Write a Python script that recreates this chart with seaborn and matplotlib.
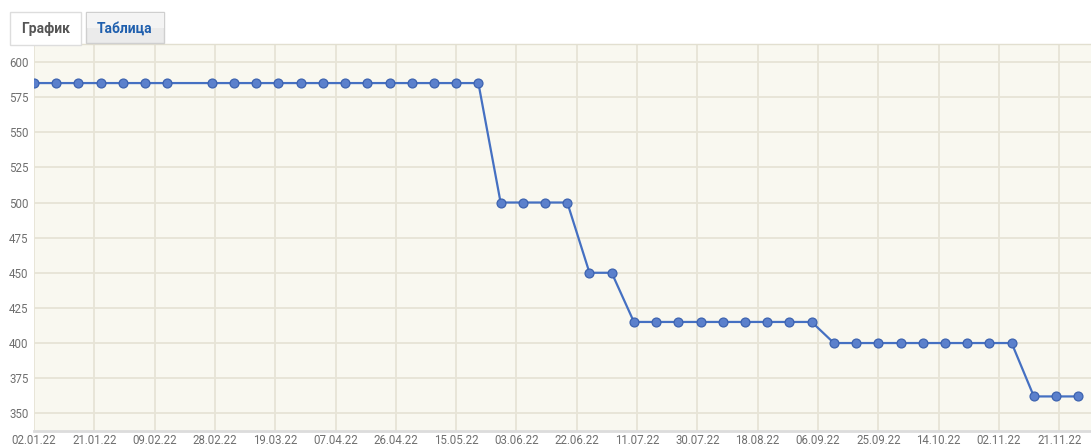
import pandas as pd
import matplotlib.pyplot as plt
import matplotlib.dates as mdates
from matplotlib.patches import Rectangle
import seaborn as sns

# weekly price points (week of 20.02.22 is missing in the source)
dates = [
    "2022-01-02", "2022-01-09", "2022-01-16", "2022-01-23", "2022-01-30", "2022-02-06", "2022-02-13",
    "2022-02-27", "2022-03-06", "2022-03-13", "2022-03-20", "2022-03-27", "2022-04-03", "2022-04-10",
    "2022-04-17", "2022-04-24", "2022-05-01", "2022-05-08", "2022-05-15", "2022-05-22",
    "2022-05-29", "2022-06-05", "2022-06-12", "2022-06-19",
    "2022-06-26", "2022-07-03",
    "2022-07-10", "2022-07-17", "2022-07-24", "2022-07-31", "2022-08-07", "2022-08-14", "2022-08-21",
    "2022-08-28", "2022-09-04",
    "2022-09-11", "2022-09-18", "2022-09-25", "2022-10-02", "2022-10-09", "2022-10-16", "2022-10-23",
    "2022-10-30", "2022-11-06",
    "2022-11-13", "2022-11-20", "2022-11-27",
]
prices = [
    585, 585, 585, 585, 585, 585, 585,
    585, 585, 585, 585, 585, 585, 585,
    585, 585, 585, 585, 585, 585,
    500, 500, 500, 500,
    450, 450,
    415, 415, 415, 415, 415, 415, 415,
    415, 415,
    400, 400, 400, 400, 400, 400, 400,
    400, 400,
    362, 362, 362,
]
tick_dates = [
    "2022-01-02", "2022-01-21", "2022-02-09", "2022-02-28", "2022-03-19", "2022-04-07",
    "2022-04-26", "2022-05-15", "2022-06-03", "2022-06-22", "2022-07-11", "2022-07-30",
    "2022-08-18", "2022-09-06", "2022-09-25", "2022-10-14", "2022-11-02", "2022-11-21",
]
y_ticks = [350, 375, 400, 425, 450, 475, 500, 525, 550, 575, 600]
tab_labels = ["График", "Таблица"]

df = pd.DataFrame({"date": pd.to_datetime(dates), "price": prices})

sns.set_style("white")
plt.rcParams['font.family'] = ['Roboto', 'DejaVu Sans']

W, H = 1091, 446
fig = plt.figure(figsize=(W / 100, H / 100), dpi=100)
fig.patch.set_facecolor("white")


def fx(px):
    return px / W


def fy(py):
    return 1 - py / H


# plot area: left 34px, top 44px, bottom 431px, right edge of image
ax = fig.add_axes([fx(34), fy(431), fx(W - 34), fy(44) - fy(431)])
ax.set_facecolor("#f9f8f0")

sns.lineplot(data=df, x="date", y="price", ax=ax, color="#4570c2", linewidth=1.6,
             marker="o", markersize=6.4, markerfacecolor="#5b80cc",
             markeredgecolor="#3d63b0", markeredgewidth=0.9, zorder=3)

ax.set_xlim(pd.Timestamp("2022-01-02"), pd.Timestamp("2022-01-02") + pd.Timedelta(days=333))
ax.set_ylim(337.4, 612.8)

ax.set_xticks(pd.to_datetime(tick_dates))
ax.xaxis.set_major_formatter(mdates.DateFormatter("%d.%m.%y"))
ax.set_yticks(y_ticks)

ax.grid(True, color="#e7e4d6", linewidth=1.3)
ax.set_axisbelow(True)
ax.tick_params(axis="both", length=0, labelsize=8.3, labelcolor="#6f6f6f")
ax.tick_params(axis="x", pad=2.5)
ax.tick_params(axis="y", pad=4)
ax.set_xlabel("")
ax.set_ylabel("")

for side in ["left", "right"]:
    ax.spines[side].set_visible(False)
ax.spines["top"].set_color("#e2dfd0")
ax.spines["top"].set_linewidth(1.0)
ax.spines["bottom"].set_color("#dcdcdc")
ax.spines["bottom"].set_linewidth(2.0)

# tabs above the chart
tab1 = Rectangle((fx(10), fy(45)), fx(71), fy(12) - fy(45), transform=fig.transFigure,
                 facecolor="white", edgecolor="#dddddd", linewidth=1.0, zorder=5)
tab2 = Rectangle((fx(86), fy(43)), fx(78), fy(12) - fy(43), transform=fig.transFigure,
                 facecolor="#ebebeb", edgecolor="#cfcfcf", linewidth=1.0, zorder=5)
tab2_top = Rectangle((fx(86.5), fy(28)), fx(77), fy(12.5) - fy(28), transform=fig.transFigure,
                     facecolor="#f4f4f4", edgecolor="none", zorder=5)
fig.patches.extend([tab1, tab2, tab2_top])
fig.text(fx(45.5), fy(28.5), tab_labels[0], ha="center", va="center", fontsize=10,
         fontweight="bold", color="#555555", zorder=6)
fig.text(fx(125), fy(28.5), tab_labels[1], ha="center", va="center", fontsize=10,
         fontweight="bold", color="#1f5fae", zorder=6)

plt.savefig("out.png", dpi=100)
plt.close()
